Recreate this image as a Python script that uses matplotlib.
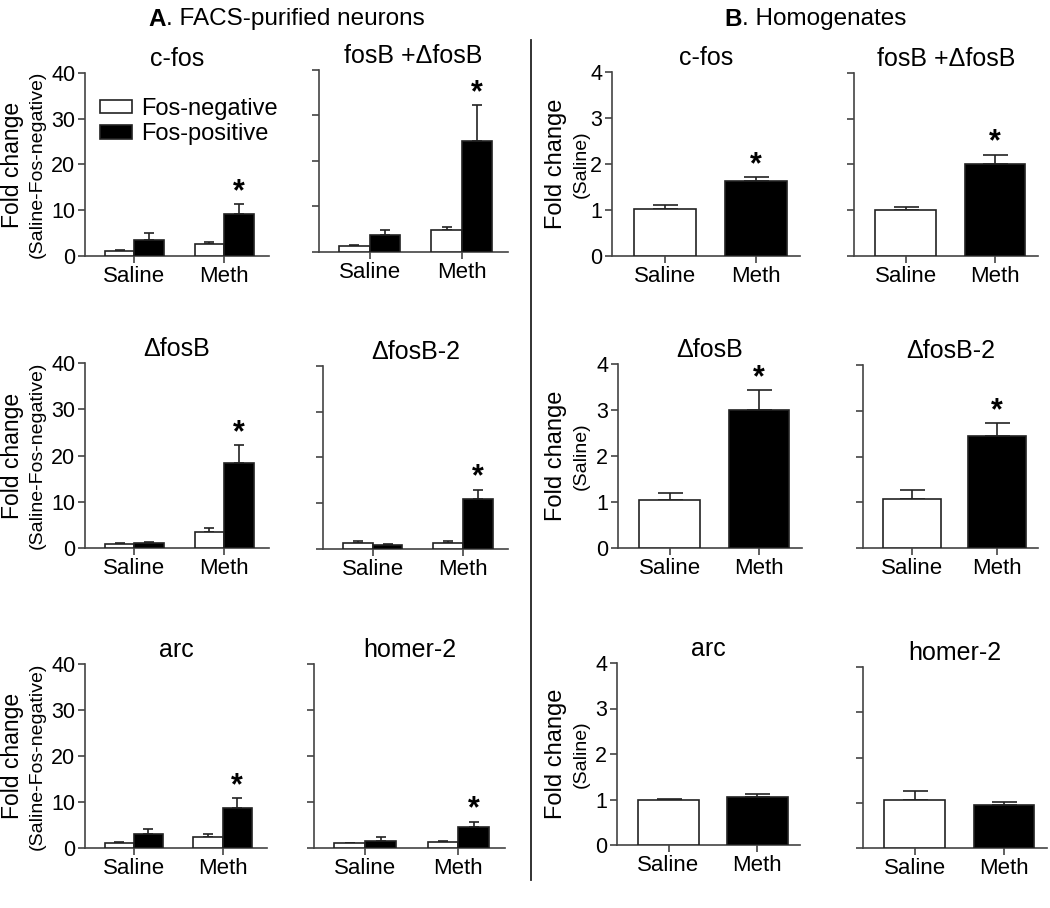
import matplotlib
matplotlib.use("Agg")
import matplotlib.pyplot as plt
from matplotlib.lines import Line2D
import numpy as np

plt.rcParams['font.family'] = ['Liberation Sans', 'DejaVu Sans']

genes = ['c-fos', 'fosB +\u0394fosB', '\u0394fosB', '\u0394fosB-2', 'arc', 'homer-2']
groups = ['Saline', 'Meth']

# Panel A: FACS-purified neurons (Saline, Meth)
A_neg_mean = [[1.2, 2.7], [1.25, 4.8], [0.95, 3.5], [1.4, 1.25], [1.1, 2.5], [1.0, 1.25]]
A_neg_err = [[0.2, 0.4], [0.25, 0.7], [0.1, 0.8], [0.35, 0.45], [0.1, 0.6], [0.1, 0.35]]
A_pos_mean = [[3.6, 9.1], [3.7, 24.4], [1.1, 18.4], [0.95, 11.0], [3.0, 8.7], [1.45, 4.5]]
A_pos_err = [[1.4, 2.2], [1.1, 7.8], [0.1, 3.8], [0.2, 2.0], [1.1, 2.1], [0.95, 1.25]]
A_pos_sig = [[False, True]] * 6

# Panel B: Homogenates (Saline, Meth)
B_mean = [[1.02, 1.63], [1.0, 2.02], [1.05, 3.0], [1.07, 2.45], [1.0, 1.05], [1.05, 0.94]]
B_err = [[0.08, 0.08], [0.08, 0.19], [0.14, 0.43], [0.19, 0.28], [0.01, 0.08], [0.2, 0.08]]
B_sig = [[False, True], [False, True], [False, True], [False, True], [False, False], [False, False]]

A_ticks = [0, 10, 20, 30, 40]
B_ticks = [0, 1, 2, 3, 4]

W, H = 1050, 908
fig = plt.figure(figsize=(W / 100, H / 100), dpi=100)

def rect(x0, y0, x1, y1):
    return [x0 / W, 1 - y1 / H, (x1 - x0) / W, (y1 - y0) / H]

A_rects = [(85, 73, 269, 256), (319, 70, 508, 252),
           (85, 363, 269, 548), (323, 366, 508, 549),
           (85, 664, 267, 848), (314, 664, 505, 848)]
B_rects = [(612, 72, 800, 256), (854, 73, 1038, 256),
           (618, 364, 802, 548), (863, 365, 1038, 548),
           (617, 663, 800, 845), (863, 667, 1047, 848)]

EC = '#222222'
LW = 1.2
XTICKFS = 16
YTICKFS = 15.5
TITLEFS = 18

def style(ax, ticks, showlabels):
    for s in ['top', 'right']:
        ax.spines[s].set_visible(False)
    for s in ['left', 'bottom']:
        ax.spines[s].set_color('#444444')
        ax.spines[s].set_linewidth(LW)
    ax.set_ylim(ticks[0], ticks[-1])
    ax.set_yticks(ticks)
    ax.set_xticks(range(len(groups)))
    ax.set_xticklabels(groups)
    ax.tick_params(axis='both', direction='out', length=5, width=LW, color='#444444', pad=2)
    ax.tick_params(axis='x', labelsize=XTICKFS)
    ax.tick_params(axis='y', labelsize=YTICKFS)
    if not showlabels:
        ax.set_yticklabels([])
    ax.set_facecolor('none')

x = np.arange(len(groups))
wA = 0.33
for i, g in enumerate(genes):
    ax = fig.add_axes(rect(*A_rects[i]))
    b1 = ax.bar(x - wA / 2, A_neg_mean[i], wA, color='white', edgecolor=EC, linewidth=LW, zorder=3)
    b2 = ax.bar(x + wA / 2, A_pos_mean[i], wA, color='black', edgecolor=EC, linewidth=LW, zorder=3)
    ax.errorbar(x - wA / 2, A_neg_mean[i], yerr=[np.zeros(2), A_neg_err[i]], fmt='none',
                ecolor=EC, elinewidth=LW, capsize=3.5, capthick=LW, zorder=2)
    ax.errorbar(x + wA / 2, A_pos_mean[i], yerr=[np.zeros(2), A_pos_err[i]], fmt='none',
                ecolor=EC, elinewidth=LW, capsize=3.5, capthick=LW, zorder=2)
    for j in range(2):
        if A_pos_sig[i][j]:
            ax.annotate('*', xy=(x[j] + wA / 2, A_pos_mean[i][j] + A_pos_err[i][j]),
                        xytext=(0, -2), textcoords='offset points', ha='center', va='bottom',
                        fontsize=22, fontweight='bold')
    ax.set_xlim(-0.55, 1.5)
    style(ax, A_ticks, i % 2 == 0)
    ax.set_title(g, fontsize=TITLEFS, pad=5)
    if i == 0:
        ax.legend([b1, b2], ['Fos-negative', 'Fos-positive'], loc='upper left',
                  bbox_to_anchor=(0.08, 0.865), frameon=False, fontsize=17,
                  handlelength=1.35, handleheight=0.5, handletextpad=0.4,
                  labelspacing=0.15, borderaxespad=0, borderpad=0)

wB = 0.68
for i, g in enumerate(genes):
    ax = fig.add_axes(rect(*B_rects[i]))
    ax.bar(x, B_mean[i], wB, color=['white', 'black'], edgecolor=EC, linewidth=LW, zorder=3)
    ax.errorbar(x, B_mean[i], yerr=[np.zeros(2), B_err[i]], fmt='none',
                ecolor=EC, elinewidth=LW, capsize=9, capthick=LW, zorder=2)
    for j in range(2):
        if B_sig[i][j]:
            ax.annotate('*', xy=(x[j], B_mean[i][j] + B_err[i][j]),
                        xytext=(0, -2), textcoords='offset points', ha='center', va='bottom',
                        fontsize=22, fontweight='bold')
    ax.set_xlim(-0.58, 1.48)
    style(ax, B_ticks, i % 2 == 0)
    ax.set_title(g, fontsize=TITLEFS, pad=5)

# y labels
for i in (0, 2, 4):
    x0, y0, x1, y1 = A_rects[i]
    yc = 1 - (y0 + y1) / 2 / H
    fig.text(13 / W, yc, 'Fold change', rotation=90, ha='center', va='center', fontsize=16.5)
    fig.text(37 / W, yc, '(Saline-Fos-negative)', rotation=90, ha='center', va='center', fontsize=14)
    x0, y0, x1, y1 = B_rects[i]
    yc = 1 - (y0 + y1) / 2 / H
    fig.text(556 / W, yc, 'Fold change', rotation=90, ha='center', va='center', fontsize=17)
    fig.text(581 / W, yc, '(Saline)', rotation=90, ha='center', va='center', fontsize=14)

# headers
HY = 1 - 19 / H
tA = fig.text(148 / W, HY, 'A', fontsize=17.5, fontweight='bold', ha='left', va='center')
tB = fig.text(724 / W, HY, 'B', fontsize=17.5, fontweight='bold', ha='left', va='center')
fig.canvas.draw()
r = fig.canvas.get_renderer()
bbA = tA.get_window_extent(r)
fig.text(bbA.x1 / W, HY, '. FACS-purified neurons', fontsize=17.5, ha='left', va='center')
bbB = tB.get_window_extent(r)
fig.text(bbB.x1 / W, HY, '. Homogenates', fontsize=17.5, ha='left', va='center')

# divider
fig.add_artist(Line2D([531 / W, 531 / W], [1 - 40 / H, 1 - 880 / H], color='#222222', linewidth=1.3))

fig.savefig('out.png', dpi=100)
